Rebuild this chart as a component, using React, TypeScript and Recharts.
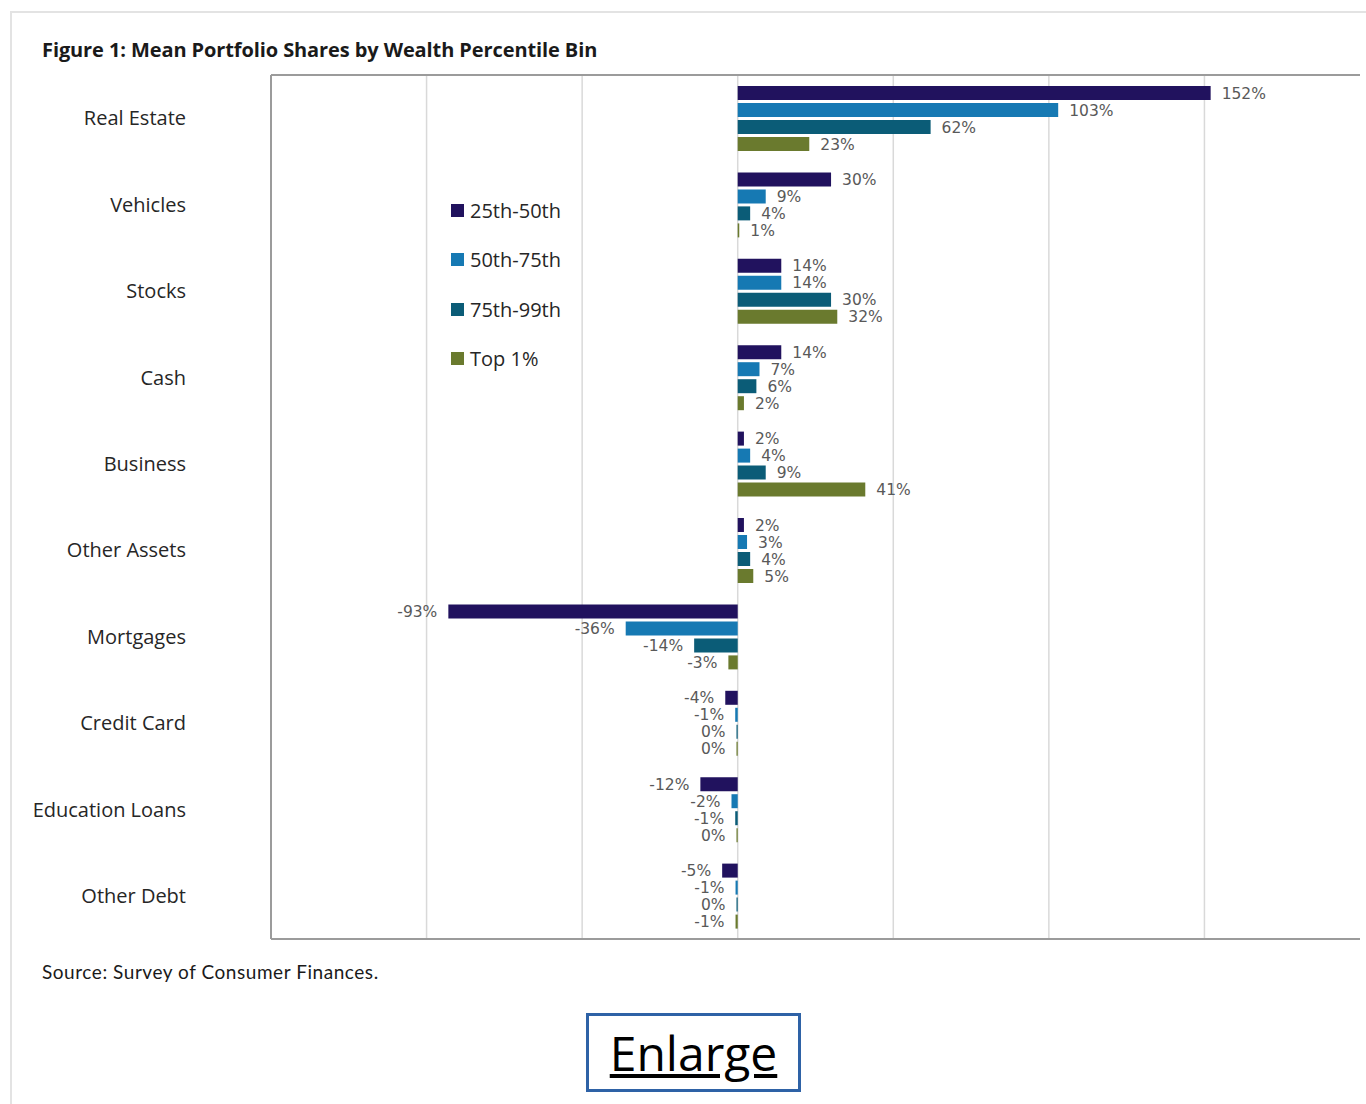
import React from 'react';
import { BarChart, Bar, XAxis, YAxis, CartesianGrid, Legend, LabelList } from 'recharts';

const categories = ['Real Estate', 'Vehicles', 'Stocks', 'Cash', 'Business', 'Other Assets', 'Mortgages', 'Credit Card', 'Education Loans', 'Other Debt'];
const p25to50 = [152, 30, 14, 14, 2, 2, -93, -4, -12, -5];
const p50to75 = [103, 9, 14, 7, 4, 3, -36, -0.8, -2, -0.7];
const p75to99 = [62, 4, 30, 6, 9, 4, -14, -0.4, -0.8, -0.4];
const top1 = [23, 0.5, 32, 2, 41, 5, -3, -0.4, -0.4, -0.7];
const seriesNames = ['25th-50th', '50th-75th', '75th-99th', 'Top 1%'];
const seriesKeys = ['s0', 's1', 's2', 's3'];
const seriesColors = ['#21125E', '#1679B3', '#0B5C77', '#6A7A2E'];
const xDomain = [-150, 200];
const xTicks = [-150, -100, -50, 0, 50, 100, 150];

const seriesValues = [p25to50, p50to75, p75to99, top1];
const data = categories.map((name, i) => {
  const row: any = { name };
  seriesKeys.forEach((k, j) => {
    row[k] = seriesValues[j][i];
  });
  return row;
});

const renderLabel = (props: any) => {
  const vb = props.viewBox || {};
  const x = Number(vb.x ?? props.x);
  const w = Number(vb.width ?? props.width);
  const y = Number(vb.y ?? props.y);
  const h = Number(vb.height ?? props.height);
  const v = Number(props.value);
  const a = x;
  const b = x + w;
  const end = v < 0 ? Math.min(a, b) : Math.max(a, b);
  const tx = v < 0 ? end - 11 : end + 11;
  return (
    <text
      x={tx}
      y={y + h / 2}
      dy="0.36em"
      textAnchor={v < 0 ? 'end' : 'start'}
      fontFamily="DejaVu Sans, sans-serif"
      fontSize={15.5}
      fill="#595959"
    >
      {`${Math.round(v)}%`}
    </text>
  );
};

const EmptyTick = () => <g />;

const gridX = (props: any) => {
  const ax = props && props.xAxis;
  if (ax && typeof ax.scale === 'function') {
    const pts = xTicks.map((t) => Number(ax.scale(t)));
    if (pts.every((p) => Number.isFinite(p))) return pts;
  }
  const off = (props && props.offset) || {};
  const left = Number(off.left);
  const width = Number(off.width);
  if (Number.isFinite(left) && Number.isFinite(width)) {
    return xTicks.map((t) => left + ((t - xDomain[0]) / (xDomain[1] - xDomain[0])) * width);
  }
  return [];
};

const renderLegend = (props: any) => {
  const payload = props.payload || [];
  return (
    <div style={{ fontFamily: 'Open Sans, sans-serif', fontSize: 20, color: '#262626' }}>
      {payload.map((p: any, i: number) => (
        <div key={i} style={{ display: 'flex', alignItems: 'center', height: 49.3 }}>
          <span style={{ display: 'inline-block', width: 13, height: 13, background: p.color, marginRight: 6 }} />
          <span>{p.value}</span>
        </div>
      ))}
    </div>
  );
};

export default function App() {
  return (
    <div style={{ position: 'absolute', left: 0, top: 0, width: 1366, height: 1104, background: '#fff', overflow: 'hidden' }}>
      <div style={{ position: 'absolute', left: 10, top: 11, width: 1400, height: 1200, borderLeft: '2px solid #e3e3e3', borderTop: '2px solid #e3e3e3' }} />
      <div style={{ position: 'absolute', left: 42, top: 36, fontFamily: 'Open Sans, sans-serif', fontWeight: 700, fontSize: 20, color: '#1a1a1a', letterSpacing: -0.1, whiteSpace: 'nowrap' }}>
        Figure 1: Mean Portfolio Shares by Wealth Percentile Bin
      </div>
      <div style={{ position: 'absolute', left: 0, top: 0 }}>
        <BarChart
          width={1366}
          height={1104}
          data={data}
          layout="vertical"
          margin={{ top: 74, right: 6, bottom: 164, left: 0 }}
          barSize={14}
          barGap={3}
        >
          <CartesianGrid horizontal={false} stroke="#d9d9d9" strokeWidth={1.5} verticalCoordinatesGenerator={gridX} />
          <XAxis type="number" domain={xDomain} ticks={xTicks} tick={<EmptyTick />} tickLine={false} height={1} axisLine={{ stroke: '#9b9b9b', strokeWidth: 2 }} />
          <XAxis xAxisId="top" orientation="top" type="number" domain={xDomain} ticks={xTicks} tick={<EmptyTick />} tickLine={false} height={1} axisLine={{ stroke: '#9b9b9b', strokeWidth: 2 }} />
          <YAxis
            type="category"
            dataKey="name"
            width={271}
            tickSize={0}
            tickMargin={85}
            axisLine={{ stroke: '#9b9b9b', strokeWidth: 2 }}
            tickLine={false}
            tick={{ fontFamily: 'Open Sans, sans-serif', fontSize: 20, fill: '#262626' }}
          />
          <Legend
            layout="vertical"
            align="center"
            verticalAlign="middle"
            content={renderLegend}
            wrapperStyle={{ position: 'absolute', left: 451, top: 186, width: 160 }}
          />
          {seriesKeys.map((k, j) => (
            <Bar key={k} dataKey={k} name={seriesNames[j]} fill={seriesColors[j]} isAnimationActive={false}>
              <LabelList dataKey={k} content={renderLabel} />
            </Bar>
          ))}
        </BarChart>
      </div>
      <div style={{ position: 'absolute', left: 42, top: 960, fontFamily: 'Lato, sans-serif', fontSize: 19, color: '#1a1a1a', letterSpacing: 0.55, whiteSpace: 'nowrap' }}>
        Source: Survey of Consumer Finances.
      </div>
      <div style={{ position: 'absolute', left: 586, top: 1013, width: 209, height: 73, border: '3px solid #2E62A6', display: 'flex', alignItems: 'center', justifyContent: 'center' }}>
        <span style={{ fontFamily: 'Open Sans, sans-serif', fontSize: 48, color: '#000', textDecoration: 'underline', lineHeight: 1 }}>Enlarge</span>
      </div>
    </div>
  );
}
